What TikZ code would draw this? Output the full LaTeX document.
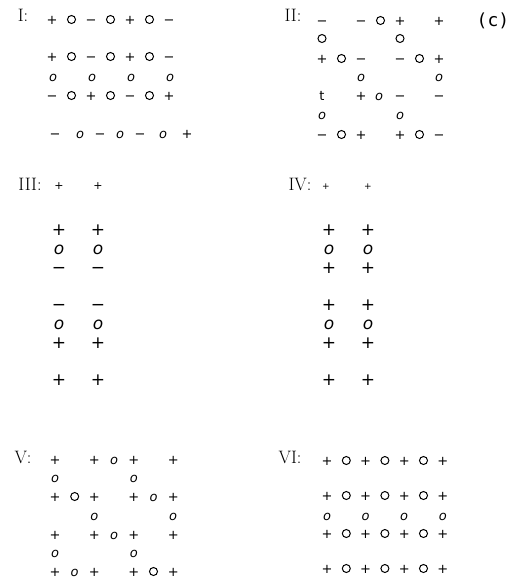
\documentclass[tikz,border=0pt]{standalone}
\usepackage{fontspec}
\newfontfamily\symfont{DejaVu Sans}
\newfontfamily\tagfont{DejaVu Sans Mono}

\tikzset{
  lab/.style={inner sep=0pt, font=\fontsize{18}{18}\selectfont},
  sym/.style={inner sep=0pt, text height=1.5ex, text depth=0.25ex, font=\symfont\fontsize{13}{13}\selectfont},
  big/.style={font=\symfont\fontsize{17}{17}\selectfont},
  symp/.style={sym, node contents={+}},
  symm/.style={sym, node contents={−}},
  symi/.style={sym, node contents={\itshape o}},
  symt/.style={sym, node contents={t}},
  symo/.style={circle, draw, line width=1pt, minimum size=8pt, inner sep=0pt, yshift=2.5pt, node contents={}},
}

\begin{document}
\begin{tikzpicture}[x=1pt,y=-1pt]
  \useasboundingbox (0,0) rectangle (512,582);
  % panel I
  \node[lab] (labI) at (23,15) {I:};
  \foreach \c/\s in {0/symp,1/symo,2/symm,3/symo,4/symp,5/symo,6/symm}{
    \node (I-0-\c) at ({52+19.5*\c},22) [\s];
    \node (I-2-\c) at ({52+19.5*\c},59) [\s]; }
  \foreach \c in {0,2,4,6}{ \node (I-3-\c) at ({53+19.5*\c},79) [symi]; }
  \foreach \c/\s in {0/symm,1/symo,2/symp,3/symo,4/symm,5/symo,6/symp}{
    \node (I-4-\c) at ({52+19.5*\c},98) [\s]; }
  \foreach \x/\s in {55/symm,80/symi,100/symm,120/symi,140/symm,163/symi,187/symp}{
    \node (I-6-\x) at (\x,136) [\s]; }
  % panel II
  \node[lab] (labII) at (293,15) {II:};
  \node[font=\tagfont\fontsize{18}{18}\selectfont, inner sep=0pt] (tagc) at (493,21) {(c)};
  \foreach \c/\s in {0/symm,2/symm,3/symo,4/symp,6/symp}{
    \node (II-0-\c) at ({322+19.5*\c},23) [\s]; }
  \foreach \c in {0,4}{ \node (II-1-\c) at ({322+19.5*\c},41) [symo]; }
  \foreach \c/\s in {0/symp,1/symo,2/symm,4/symm,5/symo,6/symp}{
    \node (II-2-\c) at ({322+19.5*\c},61) [\s]; }
  \foreach \c in {2,6}{ \node (II-3-\c) at ({322+19.5*\c},79) [symi]; }
  \foreach \c/\s in {0/symt,2/symp,4/symm,6/symm}{
    \node (II-4-\c) at ({322+19.5*\c},98) [\s]; }
  \node (II-4-x) at (379,98) [symi];
  \foreach \c in {0,4}{ \node (II-5-\c) at ({322+19.5*\c},117) [symi]; }
  \foreach \c/\s in {0/symm,1/symo,2/symp,4/symp,5/symo,6/symm}{
    \node (II-6-\c) at ({322+19.5*\c},137) [\s]; }
  % panels III and IV
  \node[lab] (labIII) at (30,184) {III:};
  \node[lab] (labIV) at (300,184) {IV:};
  \foreach \x in {59,98}{ \node (III-t-\x) at (\x,187) [symp, font=\symfont\fontsize{11}{11}\selectfont]; }
  \foreach \x in {326,368}{ \node (IV-t-\x) at (\x,187) [symp, font=\symfont\fontsize{9}{9}\selectfont]; }
  \foreach \r/\y/\s/\t in {0/233/symp/symp,1/252/symi/symi,2/271/symm/symp,
                           4/308/symm/symp,5/327/symi/symi,6/346/symp/symp,8/383/symp/symp}{
    \foreach \x in {59,98}{ \node (III-\r-\x) at (\x,\y) [\s,big]; }
    \foreach \x in {329,368}{ \node (IV-\r-\x) at (\x,\y) [\t,big]; } }
  % panel V
  \node[lab] (labV) at (23,457) {V:};
  \foreach \c/\s in {0/symp,2/symp,3/symi,4/symp,6/symp}{
    \node (V-0-\c) at ({55+19.7*\c},462) [\s];
    \node (V-4-\c) at ({55+19.7*\c},537) [\s]; }
  \foreach \c in {0,4}{
    \node (V-1-\c) at ({55+19.7*\c},480) [symi];
    \node (V-5-\c) at ({55+19.7*\c},555) [symi]; }
  \foreach \c/\s in {0/symp,1/symo,2/symp,4/symp,5/symi,6/symp}{
    \node (V-2-\c) at ({55+19.7*\c},499) [\s]; }
  \foreach \c in {2,6}{ \node (V-3-\c) at ({55+19.7*\c},518) [symi]; }
  \foreach \c/\s in {0/symp,1/symi,2/symp,4/symp,5/symo,6/symp}{
    \node (V-6-\c) at ({55+19.7*\c},574) [\s]; }
  % panel VI
  \node[lab] (labVI) at (290,457) {VI:};
  \foreach \c/\s in {0/symp,1/symo,2/symp,3/symo,4/symp,5/symo,6/symp}{
    \foreach \y in {463,498,536,571}{ \node (VI-\y-\c) at ({327+19.3*\c},\y) [\s]; } }
  \foreach \c in {0,2,4,6}{ \node (VI-i-\c) at ({327+19.3*\c},518) [symi]; }
\end{tikzpicture}
\end{document}
